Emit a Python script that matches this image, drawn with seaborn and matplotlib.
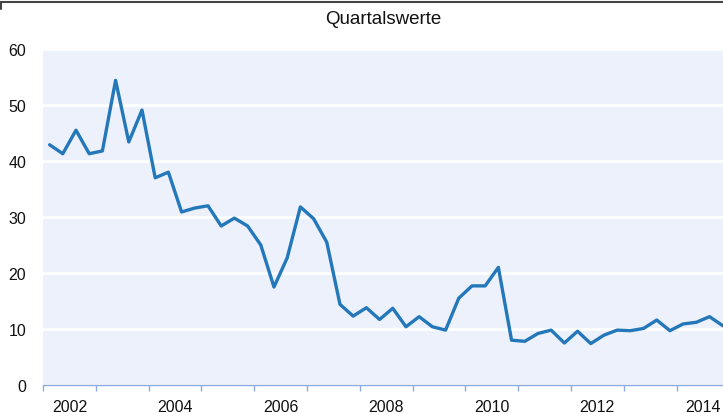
import numpy as np
import pandas as pd
import matplotlib
matplotlib.use('Agg')
import matplotlib.pyplot as plt
from matplotlib.lines import Line2D
import seaborn as sns

# quarterly values, Q1 2002 .. Q4 2014
years = list(range(2002, 2015))
values = [
    42.9, 41.3, 45.5, 41.3,
    41.8, 54.4, 43.4, 49.1,
    37.0, 38.0, 30.9, 31.6,
    32.0, 28.4, 29.8, 28.4,
    25.0, 17.5, 22.7, 31.8,
    29.7, 25.5, 14.4, 12.3,
    13.8, 11.7, 13.7, 10.4,
    12.2, 10.4, 9.8, 15.5,
    17.7, 17.7, 21.0, 8.0,
    7.8, 9.2, 9.8, 7.5,
    9.6, 7.4, 8.9, 9.8,
    9.7, 10.1, 11.6, 9.7,
    10.9, 11.2, 12.2, 10.6,
]
year_labels = [str(y) for y in years if y % 2 == 0]

t = [y + (q + 0.5) / 4 for y in years for q in range(4)]
df = pd.DataFrame({"t": t, "value": values})

sns.set_theme(style="white")
plt.rcParams['font.family'] = ['Liberation Sans', 'DejaVu Sans']

fig = plt.figure(figsize=(7.23, 4.14), dpi=100)
ax = fig.add_axes([43 / 723, 28 / 414, 1 - 43 / 723, (386 - 50) / 414])
ax.set_facecolor("#ecf1fb")

sns.lineplot(data=df, x="t", y="value", ax=ax, color="#2478ba", linewidth=2.4)

ax.set_xlim(2002, 2014.88)
ax.set_ylim(0, 60)
ax.set_yticks(range(0, 61, 10))
ax.yaxis.grid(True, color="white", linewidth=2)
ax.set_axisbelow(True)

ax.set_xticks([int(l) + 0.5 for l in year_labels])
ax.set_xticklabels(year_labels)
ax.set_xticks(years, minor=True)
ax.tick_params(axis="x", which="major", length=0, pad=10, labelsize=11.5, colors="#111111")
ax.tick_params(axis="x", which="minor", length=4, width=1, color="#8eaadf", direction="out", bottom=True)
ax.tick_params(axis="y", length=0, pad=12, labelsize=11.5, colors="#111111")

for s in ["top", "right", "left"]:
    ax.spines[s].set_visible(False)
ax.spines["bottom"].set_color("#8eaadf")
ax.spines["bottom"].set_linewidth(1)

ax.set_xlabel("")
ax.set_ylabel("")
fig.text((43 + 723) / 2 / 723, 1 - 20 / 414, "Quartalswerte", ha="center", va="center",
         fontsize=13.5, color="#111111")

fig.add_artist(Line2D([0, 1], [1 - 3 / 414, 1 - 3 / 414], color="#444444", linewidth=1.5,
                      transform=fig.transFigure))
fig.add_artist(Line2D([0.5 / 723, 0.5 / 723], [1 - 3 / 414, 1 - 10 / 414], color="#444444",
                      linewidth=1.5, transform=fig.transFigure))

fig.savefig("out.png", dpi=100)
